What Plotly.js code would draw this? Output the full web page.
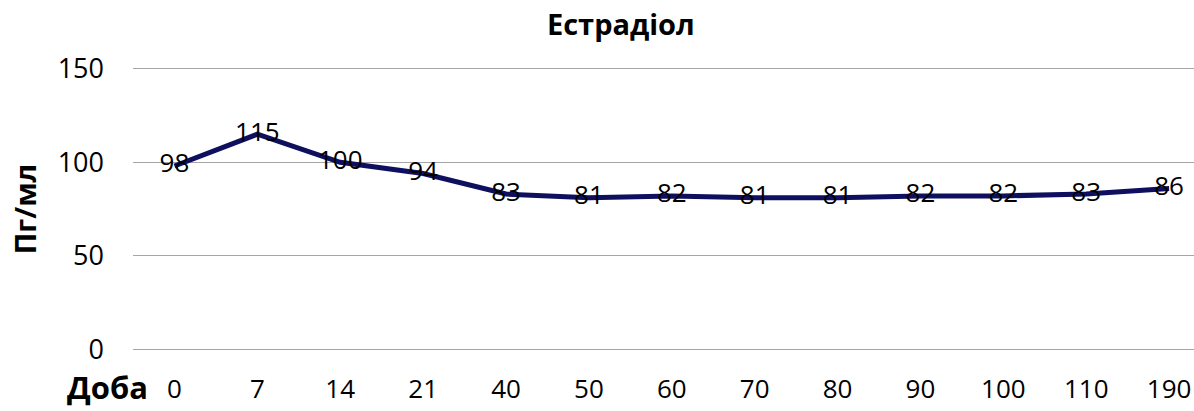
<!DOCTYPE html>
<html><head><meta charset="utf-8">
<script src="https://cdn.plot.ly/plotly-3.0.1.min.js"></script>
<style>html,body{margin:0;padding:0;background:#fff}#chart{width:1194px;height:411px}</style>
</head><body><div id="chart"></div>
<script>
const days = ['0','7','14','21','40','50','60','70','80','90','100','110','190'];
const estradiol = [98,115,100,94,83,81,82,81,81,82,82,83,86];
const titleText = 'Естрадіол';
const yTitle = 'Пг/мл';
const xLabel = 'Доба';
const yTicks = [0,50,100,150];

const F = '"Open Sans", "Noto Sans", sans-serif';
const trace = {
  x: days, y: estradiol, type: 'scatter', mode: 'lines+text',
  text: estradiol.map(String), textposition: 'middle center',
  textfont: {family: F, size: 26, color: '#000'},
  line: {color: '#0f0f5f', width: 5},
  hoverinfo: 'none', cliponaxis: false
};
const layout = {
  width: 1194, height: 411,
  margin: {l: 133, r: 0, t: 65, b: 58},
  paper_bgcolor: '#fff', plot_bgcolor: '#fff',
  showlegend: false,
  title: {text: '<b>' + titleText + '</b>', font: {family: F, size: 29, color: '#000'}, x: 0.52, xanchor: 'center', y: 0.94, yanchor: 'middle'},
  xaxis: {type: 'category', range: [-0.5, 12.3], showgrid: false, zeroline: false, showline: false,
    ticks: '', tickfont: {family: F, size: 26, color: '#000'}, ticklabelstandoff: 18},
  yaxis: {range: [-2, 152], tickvals: yTicks, showgrid: true, gridcolor: '#a6a6a6', gridwidth: 1,
    zeroline: false, showline: false, ticks: '', tickfont: {family: F, size: 27, color: '#000'},
    ticklabelstandoff: 28,
    title: {text: '<b>' + yTitle + '</b>', font: {family: F, size: 29, color: '#000'}, standoff: 12}},
  annotations: [{text: '<b>' + xLabel + '</b>', xref: 'paper', yref: 'paper', x: 0, y: 0, xanchor: 'right', yanchor: 'middle',
    xshift: 17, yshift: -34, showarrow: false, font: {family: F, size: 31, color: '#000'}}]
};
Plotly.newPlot('chart', [trace], layout, {staticPlot: true});
</script></body></html>
